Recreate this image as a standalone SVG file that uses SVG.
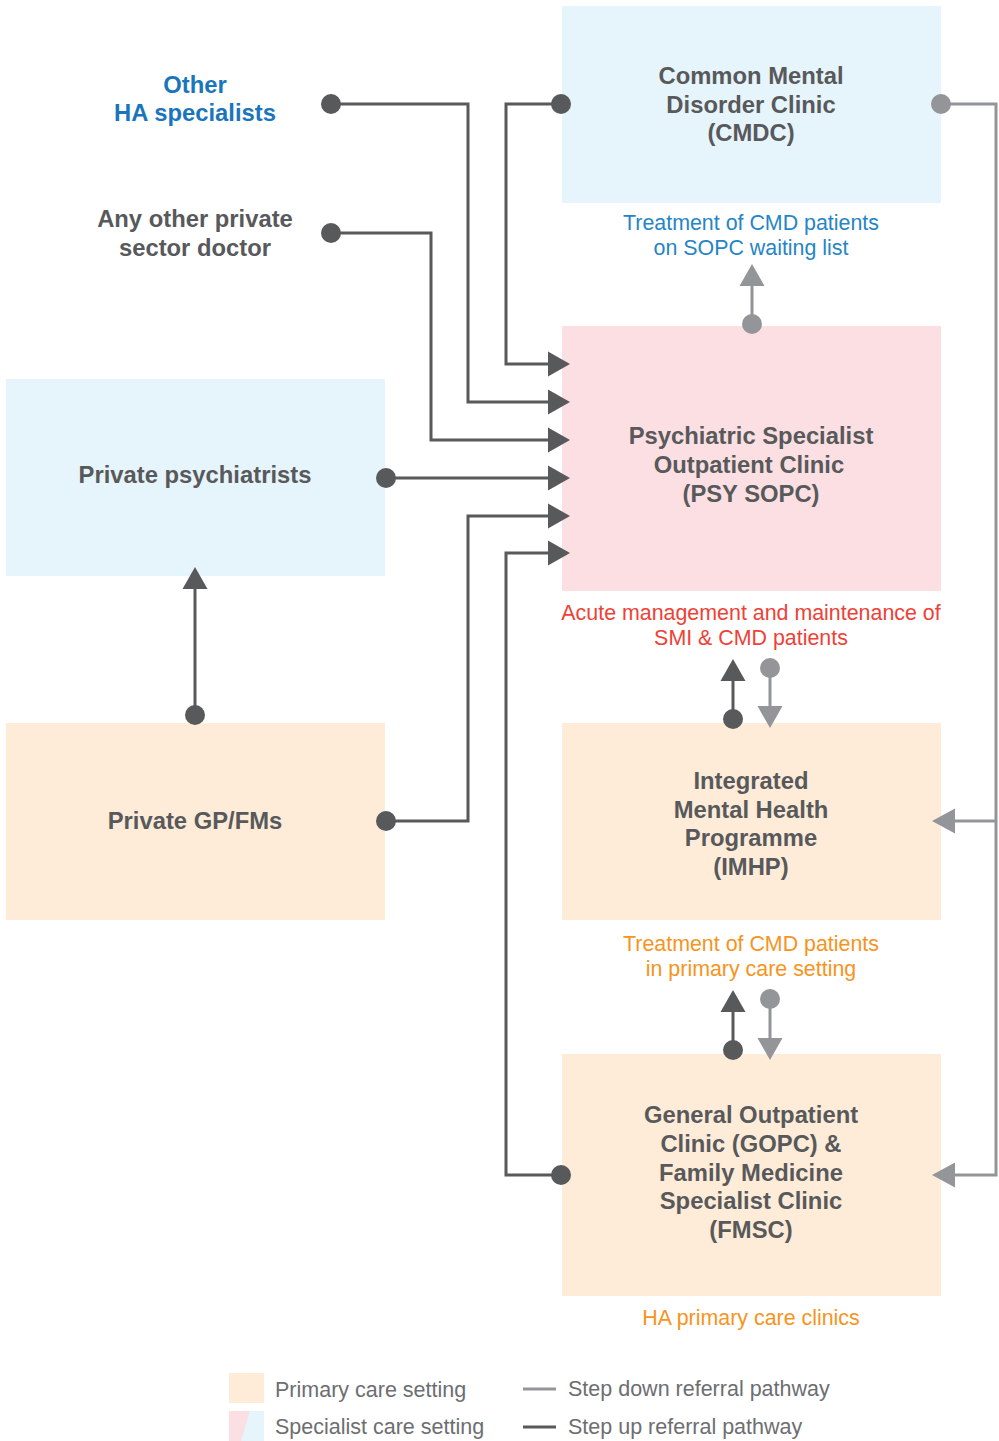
<svg xmlns="http://www.w3.org/2000/svg" width="999" height="1441" viewBox="0 0 999 1441">
  <style>
    .bg { fill: #ffffff; }
    .blue { fill: #e6f4fc; }
    .pink { fill: #fbdfe2; }
    .peach { fill: #feecd9; }
    .title { font-family: "Liberation Sans", Arial, sans-serif; font-weight: bold; font-size: 23.8px; fill: #58595b; text-anchor: middle; }
    .note { font-family: "Liberation Sans", Arial, sans-serif; font-size: 21.4px; text-anchor: middle; }
    .legend { font-family: "Liberation Sans", Arial, sans-serif; font-size: 21.5px; fill: #6d6e71; }
    .up { fill: none; stroke: #58595b; stroke-width: 3; }
    .down { fill: none; stroke: #939598; stroke-width: 3; }
    .dotUp { fill: #58595b; }
    .dotDown { fill: #939598; }
  </style>

  <rect class="bg" x="0" y="0" width="999" height="1441"/>

  <!-- Nodes -->
  <g id="other-ha">
    <text class="title" x="195" y="93" style="fill:#1b75bc">Other</text>
    <text class="title" x="195" y="121" style="fill:#1b75bc">HA specialists</text>
  </g>
  <g id="private-doctor">
    <text class="title" x="195" y="227">Any other private</text>
    <text class="title" x="195" y="256">sector doctor</text>
  </g>
  <g id="cmdc">
    <rect class="blue" x="562" y="6" width="379" height="197"/>
    <text class="title" x="751" y="84">Common Mental</text>
    <text class="title" x="751" y="113">Disorder Clinic</text>
    <text class="title" x="751" y="141">(CMDC)</text>
    <text class="note" x="751" y="230" style="fill:#2585c6">Treatment of CMD patients</text>
    <text class="note" x="751" y="255" style="fill:#2585c6">on SOPC waiting list</text>
  </g>
  <g id="psy-sopc">
    <rect class="pink" x="562" y="326" width="379" height="265"/>
    <text class="title" x="751" y="444">Psychiatric Specialist</text>
    <text class="title" x="749" y="473">Outpatient Clinic</text>
    <text class="title" x="751" y="502">(PSY SOPC)</text>
    <text class="note" x="751" y="620" style="fill:#ef4136">Acute management and maintenance of</text>
    <text class="note" x="751" y="645" style="fill:#ef4136">SMI &amp; CMD patients</text>
  </g>
  <g id="private-psychiatrists">
    <rect class="blue" x="6" y="379" width="379" height="197"/>
    <text class="title" x="195" y="483">Private psychiatrists</text>
  </g>
  <g id="private-gp">
    <rect class="peach" x="6" y="723" width="379" height="197"/>
    <text class="title" x="195" y="829">Private GP/FMs</text>
  </g>
  <g id="imhp">
    <rect class="peach" x="562" y="723" width="379" height="197"/>
    <text class="title" x="751" y="789">Integrated</text>
    <text class="title" x="751" y="818">Mental Health</text>
    <text class="title" x="751" y="846">Programme</text>
    <text class="title" x="751" y="875">(IMHP)</text>
    <text class="note" x="751" y="951" style="fill:#f7941d">Treatment of CMD patients</text>
    <text class="note" x="751" y="976" style="fill:#f7941d">in primary care setting</text>
  </g>
  <g id="gopc">
    <rect class="peach" x="562" y="1054" width="379" height="242"/>
    <text class="title" x="751" y="1123">General Outpatient</text>
    <text class="title" x="751" y="1152">Clinic (GOPC) &amp;</text>
    <text class="title" x="751" y="1181">Family Medicine</text>
    <text class="title" x="751" y="1209">Specialist Clinic</text>
    <text class="title" x="751" y="1238">(FMSC)</text>
    <text class="note" x="751" y="1325" style="fill:#f7941d">HA primary care clinics</text>
  </g>

  <!-- Connectors -->
  <g id="connectors">
    <!-- step up into PSY SOPC -->
    <polyline class="up" points="561,104 506,104 506,364 550,364"/>
    <polyline class="up" points="331,104 468,104 468,402 550,402"/>
    <polyline class="up" points="331,233 431,233 431,440 550,440"/>
    <polyline class="up" points="386,478 550,478"/>
    <polyline class="up" points="386,821 468,821 468,516 550,516"/>
    <polyline class="up" points="561,1175 506,1175 506,553 550,553"/>
    <g class="dotUp">
      <circle cx="331" cy="104" r="10"/>
      <circle cx="561" cy="104" r="10"/>
      <circle cx="331" cy="233" r="10"/>
      <circle cx="386" cy="478" r="10"/>
      <circle cx="386" cy="821" r="10"/>
      <circle cx="561" cy="1175" r="10"/>
      <polygon points="570,364 548,351.5 548,376.5"/>
      <polygon points="570,402 548,389.5 548,414.5"/>
      <polygon points="570,440 548,427.5 548,452.5"/>
      <polygon points="570,478 548,465.5 548,490.5"/>
      <polygon points="570,516 548,503.5 548,528.5"/>
      <polygon points="570,553 548,540.5 548,565.5"/>
    </g>

    <!-- private GP to private psychiatrists -->
    <line class="up" x1="195" y1="715" x2="195" y2="586"/>
    <circle class="dotUp" cx="195" cy="715" r="10"/>
    <polygon class="dotUp" points="195,567 182.5,589 207.5,589"/>

    <!-- IMHP up to PSY SOPC -->
    <line class="up" x1="733" y1="719" x2="733" y2="678"/>
    <circle class="dotUp" cx="733" cy="719" r="10"/>
    <polygon class="dotUp" points="733,659 720.5,681 745.5,681"/>

    <!-- GOPC up to IMHP -->
    <line class="up" x1="733" y1="1050" x2="733" y2="1009"/>
    <circle class="dotUp" cx="733" cy="1050" r="10"/>
    <polygon class="dotUp" points="733,990 720.5,1012 745.5,1012"/>

    <!-- step down pathways -->
    <line class="down" x1="752" y1="324" x2="752" y2="283"/>
    <circle class="dotDown" cx="752" cy="324" r="10"/>
    <polygon class="dotDown" points="752,264 739.5,286 764.5,286"/>

    <line class="down" x1="770" y1="668" x2="770" y2="709"/>
    <circle class="dotDown" cx="770" cy="668" r="10"/>
    <polygon class="dotDown" points="770,728 757.5,706 782.5,706"/>

    <line class="down" x1="770" y1="999" x2="770" y2="1040"/>
    <circle class="dotDown" cx="770" cy="999" r="10"/>
    <polygon class="dotDown" points="770,1060 757.5,1038 782.5,1038"/>

    <polyline class="down" points="941,104 996,104 996,1175 952,1175"/>
    <line class="down" x1="996" y1="821" x2="952" y2="821"/>
    <circle class="dotDown" cx="941" cy="104" r="10"/>
    <polygon class="dotDown" points="932,821 955,808.5 955,833.5"/>
    <polygon class="dotDown" points="932,1175 955,1162.5 955,1187.5"/>
  </g>

  <!-- Legend -->
  <g id="legend">
    <rect class="peach" x="229" y="1373" width="35" height="30"/>
    <rect class="blue" x="229" y="1411" width="35" height="30"/>
    <polygon class="pink" points="229,1411 250,1411 241,1441 229,1441"/>
    <text class="legend" x="275" y="1397">Primary care setting</text>
    <text class="legend" x="275" y="1434">Specialist care setting</text>
    <line class="down" x1="523" y1="1389" x2="556" y2="1389"/>
    <line class="up" x1="523" y1="1427" x2="556" y2="1427"/>
    <text class="legend" x="568" y="1396">Step down referral pathway</text>
    <text class="legend" x="568" y="1434">Step up referral pathway</text>
  </g>
</svg>
